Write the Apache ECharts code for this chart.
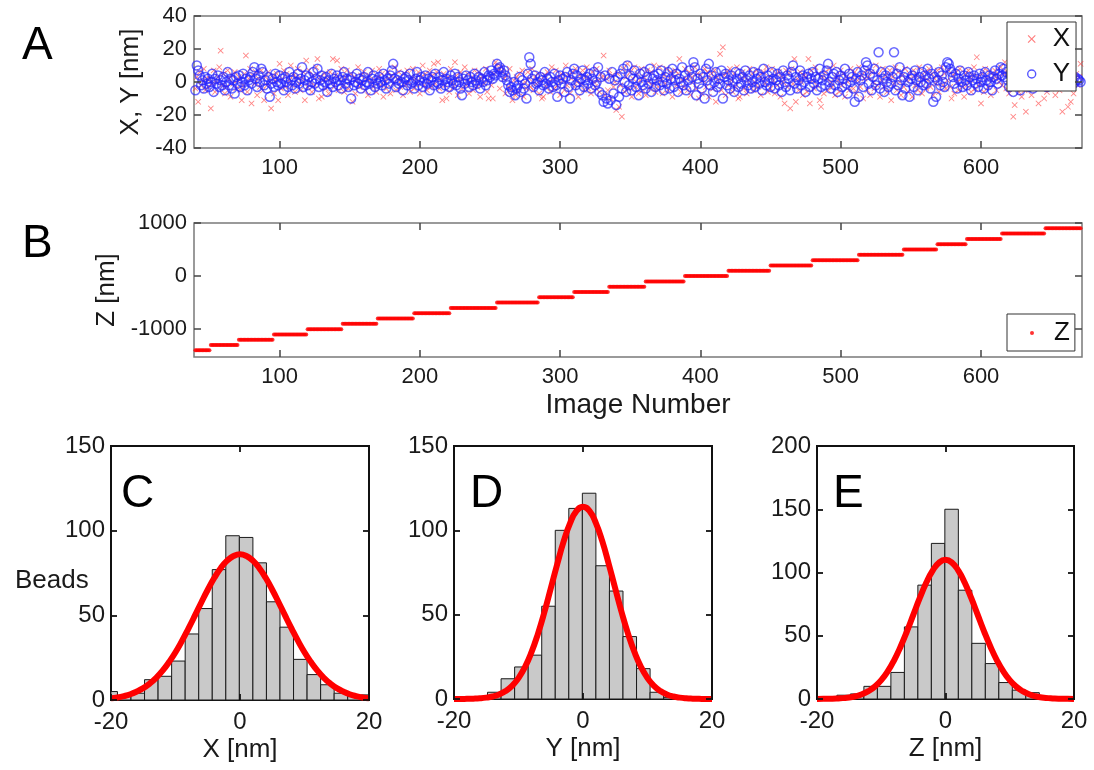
<!DOCTYPE html>
<html><head><meta charset="utf-8">
<script src="https://cdn.jsdelivr.net/npm/echarts@6/dist/echarts.min.js"></script>
<style>html,body{margin:0;padding:0;background:#fff}#c{width:1094px;height:770px}</style>
</head><body><div id="c"></div>
<script>
// ---------------- data ----------------
const imageStart = 40; // first image number; one value per image
const imageTicks = [100, 200, 300, 400, 500, 600];
const zTicks = [-1000, 0, 1000];

// Panel A: X positions [nm]
const xPos = [
-4,3,-12,6,-2,1,8,-5,2,-3,
2,-16,-1,7,-6,0,3,9,19,-2,
5,-7,-3,7,2,-9,4,-1,6,-4,
1,3,-5,-11,-2,5,16,-6,2,8,
-13,4,-1,6,-8,2,-3,7,-5,-11,
3,-2,6,0,-16,4,-7,1,5,-11,
11,-4,2,7,-3,5,-8,1,10,-2,
4,-6,3,8,-1,-5,2,6,-11,13,
-3,7,0,-6,4,-2,9,14,-10,3,
-9,1,5,-4,2,-7,6,0,14,-3,
4,13,-5,2,8,-2,-6,3,7,-4,
0,5,-12,3,-7,1,9,-3,4,-1,
6,-5,2,-8,4,0,7,-3,1,-6,
3,8,-2,5,-9,1,-4,6,2,-7,
4,-1,9,-5,2,6,-3,1,-8,5,
-2,7,0,-6,3,8,-4,2,-1,6,
-7,3,10,-2,5,-5,1,7,-3,4,
11,-1,6,12,-4,2,-11,5,-2,-10,
3,-6,8,0,-3,12,4,-8,1,6,
-4,2,9,-2,5,-7,0,3,-5,7,
1,-3,6,-9,2,4,-1,8,-6,-10,
3,-2,-10,5,12,10,7,-4,9,6,
2,-7,4,-3,8,-5,-11,1,-8,3,
-6,5,-2,7,-9,0,-4,6,2,-3,
8,-5,3,-1,5,-7,1,-10,-9,4,
-3,6,0,-6,9,2,-4,7,-2,3,
-8,5,1,-5,10,-2,4,-7,2,6,
-3,8,0,-9,4,-1,7,-5,3,9,
-4,2,-7,6,0,-3,8,1,-6,5,
3,16,-8,2,-5,7,-10,4,-3,0,
-17,5,-15,-2,-21,8,-6,3,11,-4,
6,-9,2,9,-3,5,-7,1,8,-5,
3,-8,7,0,-4,6,-2,10,-6,2,
-3,9,1,-7,4,-1,8,-5,2,6,
-9,3,7,-2,5,14,-6,1,-3,8,
2,-5,6,-8,3,0,9,-4,5,-10,
4,-7,1,8,-3,6,-9,2,5,-4,
7,-12,3,0,17,-5,21,4,-8,6,
-2,8,1,-6,5,-3,9,-10,-9,2,
6,-4,3,-7,1,8,-2,5,-5,0,
7,-3,4,-8,2,6,-1,9,-6,3,
-4,8,1,-7,5,-2,6,-9,3,0,
-13,7,-3,5,-16,8,-1,14,-12,2,
-5,6,0,-8,4,3,-6,14,-13,7,
1,-4,9,-2,5,-11,-15,3,-7,6,
2,-5,8,0,-3,10,-8,4,1,-6,
7,-2,5,-9,3,0,-5,8,2,-4,
6,-7,1,9,-3,4,-10,2,7,-5,
3,-8,6,0,-4,10,-2,5,-9,1,
8,-3,4,-6,2,7,-11,3,-1,9,
-5,6,0,-8,4,-3,8,1,-6,5,
2,-9,7,-2,4,-5,9,0,-7,3,
6,-4,1,8,-3,5,-8,2,-1,7,
-6,3,9,-2,5,-4,1,7,-3,-10,
4,-7,6,0,-5,8,2,-3,-9,5,
-2,7,1,-6,4,9,-4,15,3,-1,
-13,5,-6,8,2,-3,6,-8,1,4,
7,-5,3,0,9,-2,5,12,-4,6,
-7,2,-4,-21,-14,8,1,-6,4,-9,
3,-5,-18,6,-2,7,-8,0,5,-3,
2,-13,4,-1,8,-10,3,-6,1,5,
-4,6,0,-8,3,2,-5,7,-18,1,
-3,4,-15,0,-12,6,-7,2,5,-2,
3,11
];

// Panel A: Y positions [nm]
const yPos = [
-5,10,7,4,-2,1,-4,3,-1,2,
-3,0,5,-6,2,-1,4,-3,1,-2,
3,-5,0,6,-2,2,-4,1,-7,3,
-1,4,-3,0,5,-2,2,-5,1,3,
-1,6,9,2,-3,4,0,8,6,-2,
1,-4,3,-9,-1,2,-3,5,0,-2,
4,-1,2,-5,3,0,-3,6,1,-2,
3,-4,0,5,-1,2,9,-3,1,4,
-2,3,-5,0,6,-1,2,8,-3,1,
4,-2,0,3,-6,1,-1,5,-3,2,
0,4,-2,1,-4,3,6,-1,2,-3,
1,-10,3,-2,0,5,-1,2,-4,1,
3,-2,0,6,-1,-5,2,4,-3,1,
-1,3,0,-2,5,1,-4,2,-1,4,
7,11,2,-3,1,-1,4,0,-5,2,
3,-2,1,5,-1,0,-4,2,6,-2,
1,3,-3,0,4,-1,2,-5,1,3,
-2,5,0,-1,3,-4,1,6,-2,2,
0,-3,4,1,-1,5,-2,3,0,-4,
-8,2,-1,4,1,-3,3,0,-2,5,
1,-1,3,-4,2,0,6,-2,1,4,
3,7,2,5,4,11,8,9,6,3,
7,4,1,-2,-6,-3,-5,0,-8,-4,
-2,3,-6,1,-4,-1,-10,5,15,11,
2,-3,4,-1,0,-5,3,1,-2,6,
-1,2,-4,3,0,-3,5,-2,-9,1,
4,-1,2,-6,3,6,-3,-10,1,5,
8,-2,4,0,-5,2,7,-3,1,3,
-1,5,-4,2,6,-2,0,9,-6,3,
-8,-12,4,-10,-13,2,-11,6,-7,1,
-14,3,-9,5,-4,8,0,-6,10,-2,
4,-5,2,7,-3,1,-8,5,0,-2,
6,-4,3,-1,8,-6,2,4,-3,1,
5,-2,7,0,-5,3,-1,6,-4,2,
8,-3,1,5,-6,2,0,9,-2,4,
-5,1,7,-3,3,12,9,-8,2,-1,
5,-4,3,-10,8,1,11,-2,4,-6,
0,6,-3,2,-1,7,-10,3,5,-2,
1,-4,4,0,-6,6,2,-3,5,-1,
3,-5,7,1,-2,4,-4,0,6,-3,
2,5,-1,3,-5,8,0,-2,4,1,
-3,6,2,-4,1,5,-2,3,-6,7,
0,-3,4,2,-5,6,10,-1,3,-4,
1,7,-2,4,0,-6,3,5,-3,2,
6,-1,3,-5,2,8,-3,1,4,-2,
7,11,0,-4,3,5,-2,6,-6,1,
4,-3,2,8,-1,-7,5,0,3,-4,
-12,2,6,-9,1,4,-3,7,12,10,
-1,5,-5,3,8,-2,1,18,-4,6,
2,-6,4,0,-3,7,-1,3,18,-5,
5,-2,9,1,-8,3,-4,6,0,-9,
2,4,-3,7,1,-5,3,0,6,-2,
4,-1,8,2,-4,5,-12,3,-9,1,
6,-2,4,0,-3,9,12,11,8,6,
3,-1,5,-4,2,7,0,-3,4,1,
-2,6,3,-5,1,4,-1,2,-3,5,
0,3,-4,6,1,-2,4,0,-5,3,
7,2,-1,5,9,4,8,3,6,1,
-3,4,0,-6,2,5,-2,3,-5,1,
4,-1,2,6,-3,0,3,-4,1,5,
-2,2,4,-1,3,0,5,-3,1,2,
-1,3,0,4,-2,1,3,-1,2,0,
4,1,-2,3,0,2,-1,3,1,2,
1,0
];

// Panel B: Z positions [nm]
const zPos = [
-1400,-1400,-1400,-1400,-1400,-1400,-1400,-1400,-1400,-1400,
-1400,-1300,-1300,-1300,-1300,-1300,-1300,-1300,-1300,-1300,
-1300,-1300,-1300,-1300,-1300,-1300,-1300,-1300,-1300,-1300,
-1300,-1200,-1200,-1200,-1200,-1200,-1200,-1200,-1200,-1200,
-1200,-1200,-1200,-1200,-1200,-1200,-1200,-1200,-1200,-1200,
-1200,-1200,-1200,-1200,-1200,-1200,-1100,-1100,-1100,-1100,
-1100,-1100,-1100,-1100,-1100,-1100,-1100,-1100,-1100,-1100,
-1100,-1100,-1100,-1100,-1100,-1100,-1100,-1100,-1100,-1100,
-1000,-1000,-1000,-1000,-1000,-1000,-1000,-1000,-1000,-1000,
-1000,-1000,-1000,-1000,-1000,-1000,-1000,-1000,-1000,-1000,
-1000,-1000,-1000,-1000,-1000,-900,-900,-900,-900,-900,
-900,-900,-900,-900,-900,-900,-900,-900,-900,-900,
-900,-900,-900,-900,-900,-900,-900,-900,-900,-900,
-800,-800,-800,-800,-800,-800,-800,-800,-800,-800,
-800,-800,-800,-800,-800,-800,-800,-800,-800,-800,
-800,-800,-800,-800,-800,-800,-700,-700,-700,-700,
-700,-700,-700,-700,-700,-700,-700,-700,-700,-700,
-700,-700,-700,-700,-700,-700,-700,-700,-700,-700,
-700,-700,-600,-600,-600,-600,-600,-600,-600,-600,
-600,-600,-600,-600,-600,-600,-600,-600,-600,-600,
-600,-600,-600,-600,-600,-600,-600,-600,-600,-600,
-600,-600,-600,-600,-600,-500,-500,-500,-500,-500,
-500,-500,-500,-500,-500,-500,-500,-500,-500,-500,
-500,-500,-500,-500,-500,-500,-500,-500,-500,-500,
-500,-500,-500,-500,-500,-400,-400,-400,-400,-400,
-400,-400,-400,-400,-400,-400,-400,-400,-400,-400,
-400,-400,-400,-400,-400,-400,-400,-400,-400,-400,
-300,-300,-300,-300,-300,-300,-300,-300,-300,-300,
-300,-300,-300,-300,-300,-300,-300,-300,-300,-300,
-300,-300,-300,-300,-300,-200,-200,-200,-200,-200,
-200,-200,-200,-200,-200,-200,-200,-200,-200,-200,
-200,-200,-200,-200,-200,-200,-200,-200,-200,-200,
-200,-100,-100,-100,-100,-100,-100,-100,-100,-100,
-100,-100,-100,-100,-100,-100,-100,-100,-100,-100,
-100,-100,-100,-100,-100,-100,-100,-100,-100,0,
0,0,0,0,0,0,0,0,0,0,
0,0,0,0,0,0,0,0,0,0,
0,0,0,0,0,0,0,0,0,0,
100,100,100,100,100,100,100,100,100,100,
100,100,100,100,100,100,100,100,100,100,
100,100,100,100,100,100,100,100,100,100,
200,200,200,200,200,200,200,200,200,200,
200,200,200,200,200,200,200,200,200,200,
200,200,200,200,200,200,200,200,200,200,
300,300,300,300,300,300,300,300,300,300,
300,300,300,300,300,300,300,300,300,300,
300,300,300,300,300,300,300,300,300,300,
300,300,300,400,400,400,400,400,400,400,
400,400,400,400,400,400,400,400,400,400,
400,400,400,400,400,400,400,400,400,400,
400,400,400,400,400,500,500,500,500,500,
500,500,500,500,500,500,500,500,500,500,
500,500,500,500,500,500,500,500,500,600,
600,600,600,600,600,600,600,600,600,600,
600,600,600,600,600,600,600,600,600,600,
700,700,700,700,700,700,700,700,700,700,
700,700,700,700,700,700,700,700,700,700,
700,700,700,700,700,800,800,800,800,800,
800,800,800,800,800,800,800,800,800,800,
800,800,800,800,800,800,800,800,800,800,
800,800,800,800,800,800,900,900,900,900,
900,900,900,900,900,900,900,900,900,900,
900,900,900,900,900,900,900,900,900,900,
900,900
];

// Histograms: bin edges [nm] and counts (beads per bin)
const binEdges = [-21.1,-19.0,-16.9,-14.8,-12.7,-10.6,-8.5,-6.4,-4.3,-2.2,-0.1,2.0,4.1,6.2,8.3,10.4,12.5,14.6,16.7,18.8,20.9];
const countsX = [5,2,4,12,14,23,39,54,77,97,96,81,58,43,24,15,9,4,2,3];
const countsY = [0,0,0,4,12,19,26,55,100,113,122,79,64,37,18,4,1,0,0,0];
const countsZ = [0,1,3,4,10,10,21,57,90,123,150,86,44,28,13,7,5,2,0,0];

// Gaussian fit curves (values read along x)
const fitGrid = [-20,-19,-18,-17,-16,-15,-14,-13,-12,-11,-10,-9,-8,-7,-6,-5,-4,-3,-2,-1,0,1,2,3,4,5,6,7,8,9,10,11,12,13,14,15,16,17,18,19,20];
const fitX = [1.0,1.5,2.3,3.4,5.0,7.0,9.7,13.1,17.3,22.4,28.2,34.9,42.2,49.8,57.6,65.1,72.0,77.8,82.3,85.0,86,85.0,82.3,77.8,72.0,65.1,57.6,49.8,42.2,34.9,28.2,22.4,17.3,13.1,9.7,7.0,5.0,3.4,2.3,1.5,1.0];
const fitY = [0.0,0.0,0.1,0.2,0.4,0.8,1.5,2.7,4.7,7.8,12.4,18.9,27.6,38.5,51.3,65.5,79.9,93.4,104.3,111.5,114,111.5,104.3,93.4,79.9,65.5,51.3,38.5,27.6,18.9,12.4,7.8,4.7,2.7,1.5,0.8,0.4,0.2,0.1,0.0,0.0];
const fitZ = [0.0,0.1,0.2,0.3,0.7,1.2,2.2,3.7,6.2,9.8,14.9,21.8,30.6,41.3,53.5,66.7,79.9,91.9,101.5,107.8,110,107.8,101.5,91.9,79.9,66.7,53.5,41.3,30.6,21.8,14.9,9.8,6.2,3.7,2.2,1.2,0.7,0.3,0.2,0.1,0.0];

// ---------------- chart ----------------
const FONT = '"Liberation Sans", Arial, Helvetica, sans-serif';
const TXT = '#1a1a1a';
const crossPath = 'path://M1,0L5,4L9,0L10,1L6,5L10,9L9,10L5,6L1,10L0,9L4,5L0,1Z';

const toSeries = (arr) => arr.map((v, i) => [imageStart + i, v]);
const toBins = (counts) => counts.map((c, i) => [binEdges[i], binEdges[i + 1], c]);
const toFit = (arr) => fitGrid.map((x, i) => [x, arr[i]]);

function axis(gridIndex, position, o) {
  const main = position === 'bottom' || position === 'left';
  const a = {
    type: 'value', gridIndex, position, min: o.min, max: o.max, z: 5,
    splitLine: { show: false },
    axisLine: { show: false, onZero: false },
    axisTick: { show: true, inside: true, length: o.tickLen, lineStyle: { color: o.color, width: o.tickWidth } },
    axisLabel: { show: main, margin: o.margin, fontFamily: FONT, fontSize: o.fontSize, color: TXT,
      showMinLabel: true, showMaxLabel: true, formatter: (v) => String(v) }
  };
  if (o.interval) a.interval = o.interval;
  if (o.ticks) { a.axisTick.customValues = o.ticks; a.axisLabel.customValues = o.ticks; }
  if (main && o.name) {
    a.name = o.name; a.nameLocation = 'middle'; a.nameGap = o.nameGap;
    a.nameTextStyle = { fontFamily: FONT, fontSize: o.nameSize, color: TXT };
  }
  return a;
}

const topStyle = { color: '#444', tickWidth: 1.5, tickLen: 7, fontSize: 22, margin: 9 };
const histStyle = { color: '#111', tickWidth: 1.8, tickLen: 6, fontSize: 24, margin: 8 };

const xAxes = [], yAxes = [];
// A
xAxes.push(axis(0, 'bottom', Object.assign({ min: 39, max: 672, ticks: imageTicks }, topStyle)));
xAxes.push(axis(0, 'top', Object.assign({ min: 39, max: 672, ticks: imageTicks }, topStyle)));
yAxes.push(axis(0, 'left', Object.assign({ min: -40, max: 40, interval: 20, name: 'X, Y [nm]', nameGap: 50, nameSize: 26 }, topStyle, { margin: 7 })));
yAxes.push(axis(0, 'right', Object.assign({ min: -40, max: 40, interval: 20 }, topStyle)));
// B
xAxes.push(axis(1, 'bottom', Object.assign({ min: 39, max: 672, ticks: imageTicks, name: 'Image Number', nameGap: 34, nameSize: 28 }, topStyle)));
xAxes.push(axis(1, 'top', Object.assign({ min: 39, max: 672, ticks: imageTicks }, topStyle)));
yAxes.push(axis(1, 'left', Object.assign({ min: -1525, max: 1000, ticks: zTicks, name: 'Z [nm]', nameGap: 50, nameSize: 26 }, topStyle, { margin: 7 })));
yAxes.push(axis(1, 'right', Object.assign({ min: -1525, max: 1000, ticks: zTicks }, topStyle)));
// C, D, E
const histDefs = [
  { grid: 2, xname: 'X [nm]', ymax: 150 },
  { grid: 3, xname: 'Y [nm]', ymax: 150 },
  { grid: 4, xname: 'Z [nm]', ymax: 200 }
];
histDefs.forEach(h => {
  xAxes.push(axis(h.grid, 'bottom', Object.assign({ min: -20, max: 20, interval: 20, name: h.xname, nameGap: 37, nameSize: 26 }, histStyle, { margin: 10 })));
  xAxes.push(axis(h.grid, 'top', Object.assign({ min: -20, max: 20, interval: 20 }, histStyle)));
  yAxes.push(axis(h.grid, 'left', Object.assign({ min: 0, max: h.ymax, interval: 50 }, histStyle, { margin: 6 })));
  yAxes.push(axis(h.grid, 'right', Object.assign({ min: 0, max: h.ymax, interval: 50 }, histStyle)));
});

function barItem(params, api) {
  const a = api.coord([api.value(0), api.value(2)]);
  const b = api.coord([api.value(1), 0]);
  const cs = params.coordSys;
  const r = echarts.graphic.clipRectByRect(
    { x: a[0], y: a[1], width: b[0] - a[0], height: b[1] - a[1] },
    { x: cs.x, y: cs.y, width: cs.width, height: cs.height });
  if (!r || r.height <= 0) return null;
  return { type: 'rect', shape: r, style: { fill: '#c9c9c9', stroke: '#1a1a1a', lineWidth: 1 } };
}

const histSeries = [];
[[countsX, fitX], [countsY, fitY], [countsZ, fitZ]].forEach((pair, k) => {
  const ax = 4 + 2 * k;
  histSeries.push({ type: 'custom', xAxisIndex: ax, yAxisIndex: ax, renderItem: barItem, data: toBins(pair[0]), z: 2 });
  histSeries.push({ type: 'line', xAxisIndex: ax, yAxisIndex: ax, data: toFit(pair[1]), smooth: true, showSymbol: false,
    lineStyle: { color: '#ff0000', width: 6 }, z: 3 });
});

const gridBase = { show: true, backgroundColor: '#fff', outerBoundsMode: 'none', containLabel: false };
const letter = (t, x, y) => ({ type: 'text', x, y, z: 10,
  style: { text: t, fontFamily: FONT, fontSize: 46, fill: '#000', align: 'left', verticalAlign: 'middle' } });

const option = {
  animation: false,
  backgroundColor: '#fff',
  grid: [
    Object.assign({ left: 194, top: 16, width: 888, height: 132, borderColor: '#7a7a7a', borderWidth: 1.5 }, gridBase),
    Object.assign({ left: 194, top: 223, width: 888, height: 134, borderColor: '#7a7a7a', borderWidth: 1.5 }, gridBase),
    Object.assign({ left: 111, top: 446, width: 258, height: 254, borderColor: '#111', borderWidth: 2 }, gridBase),
    Object.assign({ left: 454, top: 446, width: 258, height: 253, borderColor: '#111', borderWidth: 2 }, gridBase),
    Object.assign({ left: 817, top: 446, width: 257, height: 253, borderColor: '#111', borderWidth: 2 }, gridBase)
  ],
  xAxis: xAxes,
  yAxis: yAxes,
  legend: [
    { left: 1007, top: 22, orient: 'vertical', selectedMode: false, padding: [4, 6, 4, 20], itemGap: 9,
      itemWidth: 8, itemHeight: 8, borderColor: '#333', borderWidth: 1, backgroundColor: '#fff',
      textStyle: { fontFamily: FONT, fontSize: 26, color: '#111', padding: [0, 0, 0, 12] },
      data: [
        { name: 'X', icon: crossPath, itemStyle: { color: 'rgba(255,50,50,0.8)' } },
        { name: 'Y', icon: 'circle', itemStyle: { color: 'rgba(0,0,0,0)', borderColor: '#2b2bff', borderWidth: 1.4 } }
      ] },
    { left: 1007, top: 314, orient: 'vertical', selectedMode: false, padding: [6, 5, 5, 23],
      itemWidth: 4, itemHeight: 4, borderColor: '#333', borderWidth: 1, backgroundColor: '#fff',
      textStyle: { fontFamily: FONT, fontSize: 26, color: '#111', padding: [0, 0, 0, 15] },
      data: [{ name: 'Z', icon: 'circle', itemStyle: { color: '#ff0000' } }] }
  ],
  graphic: [
    letter('A', 22, 46), letter('B', 22, 244),
    letter('C', 121, 494), letter('D', 470, 494), letter('E', 833, 494),
    { type: 'text', x: 15, y: 581, style: { text: 'Beads', fontFamily: FONT, fontSize: 26, fill: TXT, align: 'left', verticalAlign: 'middle' } }
  ],
  series: [
    { name: 'X', type: 'scatter', xAxisIndex: 0, yAxisIndex: 0, data: toSeries(xPos), symbol: crossPath, symbolSize: 6,
      itemStyle: { color: 'rgba(255,50,50,0.75)' }, z: 2 },
    { name: 'Y', type: 'scatter', xAxisIndex: 0, yAxisIndex: 0, data: toSeries(yPos), symbol: 'circle', symbolSize: 9,
      itemStyle: { color: 'rgba(0,0,0,0)', borderColor: 'rgba(35,35,255,0.85)', borderWidth: 1.5 }, z: 3 },
    { name: 'Z', type: 'scatter', xAxisIndex: 2, yAxisIndex: 2, data: toSeries(zPos), symbol: 'circle', symbolSize: 4,
      itemStyle: { color: '#ff0000' }, z: 2 }
  ].concat(histSeries)
};

const chart = echarts.init(document.getElementById('c'), null, { renderer: 'canvas' });
chart.setOption(option);
</script>
</body></html>
